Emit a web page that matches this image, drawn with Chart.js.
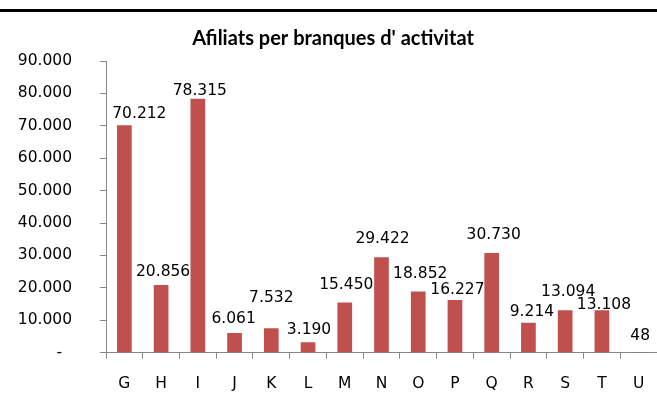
<!DOCTYPE html>
<html>
<head>
<meta charset="utf-8">
<script src="https://cdn.jsdelivr.net/npm/chart.js@4"></script>
<style>
  body { margin: 0; background: #fff; }
</style>
</head>
<body>
<canvas id="afiliats" width="657" height="420"></canvas>
<script>
    var categories = ['G', 'H', 'I', 'J', 'K', 'L', 'M', 'N', 'O', 'P', 'Q', 'R', 'S', 'T', 'U'];
    var afiliats = [70212, 20856, 78315, 6061, 7532, 3190, 15450, 29422, 18852, 16227, 30730, 9214, 13094, 13108, 48];
    var yMax = 90000;
    var yStep = 10000;
    var titleText = "Afiliats per branques d' activitat";

    // label nudges (px) as placed in the original sheet
    var labelLift = [7.6, 9, 3.4, 10, 26.6, 8, 13.5, 14.7, 14, 6, 14, 6.6, 14.7, 1.4, 13];
    var labelShift = [15, 2, 2, -1, 0, 1, 1.5, 1, 2, 2.5, 2, 3.5, 3, 2, 1.5];

    var tickFont = { family: 'DejaVu Sans', size: 15.5 };
    var axisGray = '#868686';

    function fmt(v) {
        return String(v).replace(/\B(?=(\d{3})+(?!\d))/g, '.');
    }

    var decorations = {
        id: 'decorations',
        afterDraw: function (chart) {
            var ctx = chart.ctx;
            ctx.save();
            // rule above the chart
            ctx.fillStyle = '#000';
            ctx.fillRect(0, 9, chart.width, 3);
            // title
            ctx.font = 'bold 20px Lato';
            ctx.textAlign = 'center';
            ctx.textBaseline = 'alphabetic';
            ctx.fillText(titleText, 333, 44.5);
            // value labels
            var meta = chart.getDatasetMeta(0);
            ctx.font = tickFont.size + 'px ' + tickFont.family;
            meta.data.forEach(function (bar, i) {
                ctx.fillText(fmt(afiliats[i]), bar.x + labelShift[i], bar.y - labelLift[i]);
            });
            ctx.restore();
        }
    };

    var ctx1 = document.getElementById('afiliats').getContext('2d');
    var barChart = new Chart(ctx1, {
        type: 'bar',
        data: {
            labels: categories,
            datasets: [{
                data: afiliats,
                backgroundColor: '#C0504D',
                borderWidth: 0,
                barPercentage: 0.4,
                categoryPercentage: 1
            }]
        },
        options: {
            responsive: false,
            animation: false,
            layout: {
                padding: { top: 61, left: 18, right: 0, bottom: 27 }
            },
            plugins: {
                legend: { display: false },
                title: { display: false },
                tooltip: { enabled: false }
            },
            scales: {
                x: {
                    afterFit: function (scale) {
                        scale.height = 40.3;
                        scale.paddingLeft = 0;
                        scale.paddingRight = 0;
                    },
                    border: { color: axisGray, width: 1 },
                    grid: {
                        drawOnChartArea: false,
                        drawTicks: true,
                        tickLength: 6,
                        color: axisGray,
                        offset: true
                    },
                    ticks: {
                        color: '#000',
                        font: tickFont,
                        padding: 16
                    }
                },
                y: {
                    min: 0,
                    max: yMax,
                    afterFit: function (scale) { scale.width = 88; },
                    border: { color: axisGray, width: 1 },
                    grid: {
                        drawOnChartArea: false,
                        drawTicks: true,
                        tickLength: 6,
                        color: axisGray
                    },
                    ticks: {
                        stepSize: yStep,
                        color: '#000',
                        font: tickFont,
                        padding: 28,
                        callback: function (v) {
                            return v === 0 ? '-  ' : fmt(v);
                        }
                    }
                }
            }
        },
        plugins: [decorations]
    });
</script>
</body>
</html>
